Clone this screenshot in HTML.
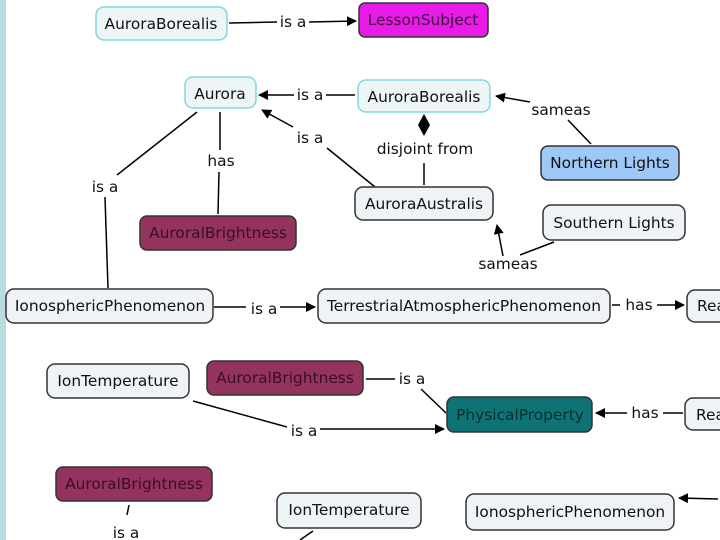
<!DOCTYPE html>
<html><head><style>body{margin:0;background:#fff}svg{display:block}text{font-family:"DejaVu Sans","Liberation Sans",sans-serif;font-size:15.4px}</style></head><body>
<svg width="720" height="540" viewBox="0 0 720 540" xmlns="http://www.w3.org/2000/svg">
<defs><marker id="a" markerWidth="10" markerHeight="10" refX="9" refY="5" orient="auto" markerUnits="userSpaceOnUse"><path d="M0,0L10,5L0,10z" fill="#000"/></marker></defs>
<rect x="0" y="0" width="6" height="540" fill="#b8dce2"/>
<g stroke="#000" stroke-width="1.5" fill="none">
<line x1="229" y1="23" x2="277" y2="22"/><line x1="309" y1="22" x2="356" y2="21" marker-end="url(#a)"/>
<line x1="355" y1="95" x2="326" y2="95"/><line x1="294" y1="95" x2="259" y2="95" marker-end="url(#a)"/>
<line x1="293" y1="127" x2="262" y2="110" marker-end="url(#a)"/><line x1="327" y1="148" x2="375" y2="187"/>
<line x1="530" y1="102" x2="496" y2="96" marker-end="url(#a)"/><line x1="568" y1="120" x2="591" y2="144"/>
<line x1="424" y1="185" x2="424" y2="163"/>
<line x1="220" y1="112" x2="220" y2="150"/><line x1="219" y1="172" x2="218" y2="214"/>
<line x1="197" y1="112" x2="117" y2="175"/><line x1="105" y1="197" x2="108" y2="288"/>
<line x1="554" y1="242" x2="520" y2="255"/><line x1="503" y1="256" x2="497" y2="225" marker-end="url(#a)"/>
<line x1="214" y1="307" x2="246" y2="307"/><line x1="280" y1="307" x2="315" y2="307" marker-end="url(#a)"/>
<line x1="612" y1="305" x2="620" y2="305"/><line x1="657" y1="305" x2="684" y2="305" marker-end="url(#a)"/>
<line x1="366" y1="379" x2="395" y2="379"/><line x1="421" y1="389" x2="446" y2="413"/>
<line x1="193" y1="401" x2="287" y2="427"/><line x1="320" y1="429" x2="444" y2="429" marker-end="url(#a)"/>
<line x1="683" y1="413" x2="663" y2="413"/><line x1="627" y1="413" x2="596" y2="413" marker-end="url(#a)"/>
<line x1="129" y1="505" x2="127" y2="515"/><line x1="313" y1="531" x2="300" y2="540"/>
<line x1="718" y1="499" x2="679" y2="498" marker-end="url(#a)"/>
</g>
<path d="M424,114L430,125L424,136L418,125z" fill="#000"/>
<g stroke-width="1.5">
<rect x="96" y="7" width="131" height="33" rx="8" fill="#eef5f7" stroke="#7fd8df"/>
<rect x="359" y="3" width="129" height="34" rx="6" fill="#e81be8" stroke="#333"/>
<rect x="185" y="77" width="71" height="31" rx="8" fill="#eef5f7" stroke="#7fd8df"/>
<rect x="358" y="80" width="132" height="32" rx="8" fill="#eef5f7" stroke="#7fd8df"/>
<rect x="541" y="146" width="138" height="34" rx="7" fill="#9ec8f5" stroke="#333"/>
<rect x="355" y="187" width="138" height="33" rx="8" fill="#eef3f5" stroke="#333"/>
<rect x="543" y="205" width="142" height="35" rx="8" fill="#eef3f5" stroke="#333"/>
<rect x="140" y="216" width="156" height="34" rx="7" fill="#94335e" stroke="#333"/>
<rect x="6" y="289" width="207" height="34" rx="8" fill="#eef3f5" stroke="#333"/>
<rect x="318" y="289" width="292" height="34" rx="8" fill="#eef3f5" stroke="#333"/>
<rect x="687" y="290" width="60" height="32" rx="8" fill="#eef3f5" stroke="#333"/>
<rect x="47" y="364" width="142" height="34" rx="8" fill="#eef3f5" stroke="#333"/>
<rect x="207" y="361" width="156" height="34" rx="7" fill="#94335e" stroke="#333"/>
<rect x="447" y="397" width="145" height="35" rx="7" fill="#0f7373" stroke="#333"/>
<rect x="685" y="398" width="60" height="32" rx="8" fill="#eef3f5" stroke="#333"/>
<rect x="56" y="467" width="156" height="34" rx="7" fill="#94335e" stroke="#333"/>
<rect x="277" y="493" width="144" height="35" rx="8" fill="#eef3f5" stroke="#333"/>
<rect x="466" y="494" width="208" height="36" rx="8" fill="#eef3f5" stroke="#333"/>
</g>
<g fill="#111" text-anchor="middle">
<text x="161" y="29">AuroraBorealis</text>
<text x="423" y="25" fill="#3a0a3a">LessonSubject</text>
<text x="220" y="99">Aurora</text>
<text x="424" y="102">AuroraBorealis</text>
<text x="610" y="168">Northern Lights</text>
<text x="424" y="209">AuroraAustralis</text>
<text x="614" y="228">Southern Lights</text>
<text x="218" y="238" fill="#3a0f22">AuroralBrightness</text>
<text x="110" y="311">IonosphericPhenomenon</text>
<text x="464" y="311">TerrestrialAtmosphericPhenomenon</text>
<text x="697" y="311" text-anchor="start">Rea</text>
<text x="118" y="386">IonTemperature</text>
<text x="285" y="383" fill="#3a0f22">AuroralBrightness</text>
<text x="520" y="420" fill="#06302f">PhysicalProperty</text>
<text x="696" y="420" text-anchor="start">Rea</text>
<text x="134" y="489" fill="#3a0f22">AuroralBrightness</text>
<text x="349" y="515">IonTemperature</text>
<text x="570" y="517">IonosphericPhenomenon</text>
<text x="293" y="27">is a</text>
<text x="310" y="100">is a</text>
<text x="310" y="143">is a</text>
<text x="561" y="115">sameas</text>
<text x="425" y="154">disjoint from</text>
<text x="221" y="166">has</text>
<text x="105" y="192">is a</text>
<text x="508" y="269">sameas</text>
<text x="264" y="314">is a</text>
<text x="639" y="310">has</text>
<text x="412" y="384">is a</text>
<text x="304" y="436">is a</text>
<text x="645" y="418">has</text>
<text x="126" y="538">is a</text>
</g>
</svg>
</body></html>
